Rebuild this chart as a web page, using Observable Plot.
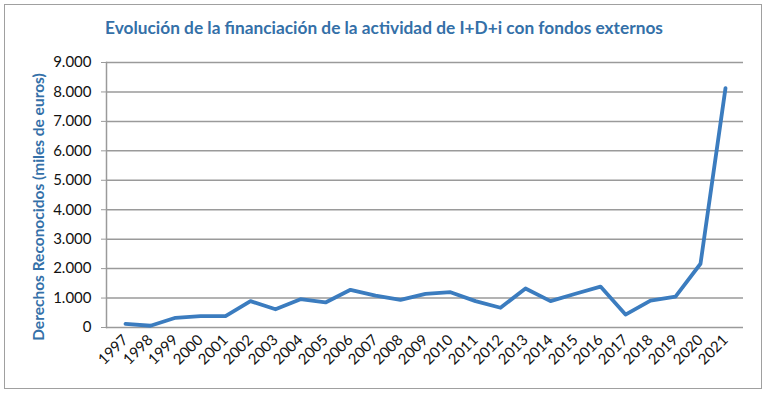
<!DOCTYPE html>
<html>
<head>
<meta charset="utf-8">
<script src="https://cdn.jsdelivr.net/npm/d3@7"></script>
<script src="https://cdn.jsdelivr.net/npm/@observablehq/plot@0.6"></script>
<style>
  html, body { margin: 0; padding: 0; background: #fff; }
  #wrap { position: relative; width: 768px; height: 394px; font-family: Lato, "Open Sans", sans-serif; }
  #border { position: absolute; left: 4px; top: 4px; width: 756px; height: 383px; border: 1.5px solid #a0a0a0; pointer-events: none; }
  #title { height: 44px; box-sizing: border-box; padding-top: 17px; text-align: center; font-weight: bold; font-size: 17.3px; line-height: 22px; color: #3470A8; }
  svg { display: block; }
</style>
</head>
<body>
<div id="wrap">
  <div id="border"></div>
  <div id="title">Evolución de la financiación de la actividad de I+D+i con fondos externos</div>
  <div id="chart"></div>
</div>
<script>
const years = ["1997","1998","1999","2000","2001","2002","2003","2004","2005","2006","2007","2008","2009","2010","2011","2012","2013","2014","2015","2016","2017","2018","2019","2020","2021"];
const values = [125, 60, 330, 385, 390, 895, 620, 960, 850, 1280, 1085, 940, 1145, 1200, 895, 670, 1325, 895, 1145, 1390, 440, 915, 1050, 2165, 8130];
const yTicks = [0, 1000, 2000, 3000, 4000, 5000, 6000, 7000, 8000, 9000];
const yLabel = "Derechos Reconocidos (miles de euros)";

const data = years.map((y, i) => ({year: y, value: values[i]}));
const fmt = d => d3.format(",")(d).replace(/,/g, ".");

const chart = Plot.plot({
  width: 768,
  height: 350,
  marginTop: 18,
  marginBottom: 67,
  marginLeft: 106,
  marginRight: 25,
  style: {fontFamily: "Lato, 'Open Sans', sans-serif", fontSize: "15px", color: "#111", background: "transparent"},
  x: {type: "point", domain: years, padding: 0.5},
  y: {domain: [0, 9000]},
  marks: [
    Plot.ruleY(yTicks, {stroke: "#9a9a9a", strokeWidth: 1.5, strokeOpacity: 1}),
    Plot.frame({anchor: "left", stroke: "#9a9a9a", strokeWidth: 1.5}),
    Plot.axisY({ticks: yTicks, tickFormat: fmt, tickSize: 5, tickPadding: 10, stroke: "#9a9a9a", fontSize: 15,
      label: yLabel, labelAnchor: "center", labelArrow: "none", labelOffset: 74}),
    Plot.axisX({tickRotate: -45, tickSize: 0, tickPadding: 10, label: null, fontSize: 15}),
    Plot.line(data, {x: "year", y: "value", stroke: "#3B7CBF", strokeWidth: 3.8, strokeLinejoin: "round", strokeLinecap: "round"})
  ]
});
document.getElementById("chart").appendChild(chart);
// style the y label
chart.querySelectorAll("g[aria-label='y-axis label'] text").forEach(t => {
  t.setAttribute("fill", "#3470A8");
  t.setAttribute("font-weight", "bold");
  t.setAttribute("font-size", "15.5px");
  t.setAttribute("dx", "-12");
});
</script>
</body>
</html>
